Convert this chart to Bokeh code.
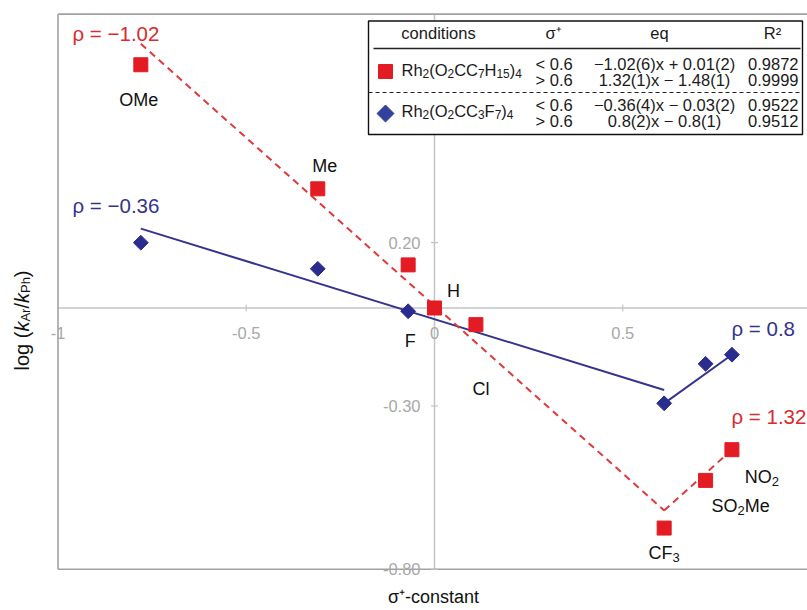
import numpy as np
from bokeh.plotting import figure
from bokeh.models import Range1d, Label
from bokeh.embed import file_html
from bokeh.resources import INLINE

# ---------------- data ----------------
substituents = ["OMe", "Me", "F", "H", "Cl", "CF₃", "SO₂Me", "NO₂"]
sigma_plus = [-0.78, -0.31, -0.07, 0.00, 0.11, 0.61, 0.72, 0.79]
log_krel_c7 = [0.745, 0.365, 0.132, 0.000, -0.051, -0.674, -0.528, -0.434]

sigma_plus_c3f7 = [-0.78, -0.31, -0.07, 0.61, 0.72, 0.79]
log_krel_c3f7 = [0.200, 0.120, -0.010, -0.292, -0.171, -0.143]

fit_c7_low_x = [-0.78, 0.61]
fit_c7_low_y = [0.809, -0.620]
fit_c7_high_x = [0.61, 0.79]
fit_c7_high_y = [-0.620, -0.434]
fit_c3f7_low_x = [-0.78, 0.61]
fit_c3f7_low_y = [0.243, -0.251]
fit_c3f7_high_x = [0.61, 0.79]
fit_c3f7_high_y = [-0.292, -0.143]

rho_c7 = ["−1.02", "1.32"]
rho_c3f7 = ["−0.36", "0.8"]

x_ticks = [-1.0, -0.5, 0.0, 0.5]
x_tick_labels = ["-1", "-0.5", "0", "0.5"]
y_ticks = [0.20, -0.30, -0.80]
y_tick_labels = ["0.20", "-0.30", "-0.80"]
x_lim = [-1.0, 1.0]
y_lim = [-0.8, 0.9]

table_header = ["conditions", "σ⁺", "eq", "R²"]
catalysts = ["Rh₂(O₂CC₇H₁₅)₄", "Rh₂(O₂CC₃F₇)₄"]
sigma_ranges = ["< 0.6", "> 0.6"]
equations = ["−1.02(6)x + 0.01(2)", "1.32(1)x − 1.48(1)",
             "−0.36(4)x − 0.03(2)", "0.8(2)x − 0.8(1)"]
r_squared = ["0.9872", "0.9999", "0.9522", "0.9512"]

# ---------------- layout / style ----------------
FONT = "Liberation Sans"
RED = "#e31b23"
RED_LINE = "#e0393d"
RED_TXT = "#d92a30"
BLUE = "#2b2d8e"
BLUE_LINE = "#34348f"
BLUE_TXT = "#33338f"
GRID_GRAY = "#c4c4c4"
FRAME_GRAY = "#a2a2a2"
TICK_GRAY = "#a8a8a8"

W, H = 807, 610
PXX, PXY = 376.5, 326.5      # pixels per data unit
ZX, ZY = 434.0, 307.5        # pixel position of the origin
BASE_FIX = 7                 # baseline correction for label placement (px)

# Arial / Liberation Sans advance widths (per 1000 em)
ARIAL = {"l": 222, "o": 556, "g": 556, " ": 278, "(": 333, ")": 333, "k": 500,
         "A": 667, "r": 333, "/": 278, "P": 667, "h": 556, "R": 722, "O": 778,
         "C": 722, "H": 722, "F": 611, "S": 667, "M": 833, "e": 556, "N": 722}
for d in "0123456789":
    ARIAL[d] = 556
SUBS = "₀₁₂₃₄₅₆₇₈₉"


def page_x(px):
    return (px - ZX) / PXX


def page_y(py):
    return (ZY - py) / PXY


p = figure(width=W, height=H, title=None,
           x_range=Range1d(page_x(0), page_x(W)),
           y_range=Range1d(page_y(H), page_y(0)),
           x_axis_location=None, y_axis_location=None,
           toolbar_location=None, output_backend="svg",
           min_border_left=0, min_border_right=0,
           min_border_top=0, min_border_bottom=0)
p.grid.visible = False
p.outline_line_color = None
p.background_fill_color = "white"
p.border_fill_color = "white"

xr_end = page_x(W)
# axes through the origin
p.segment(x0=0, x1=0, y0=y_lim[0], y1=y_lim[1], line_color=GRID_GRAY, line_width=1.5)
p.segment(x0=x_lim[0], x1=xr_end, y0=0, y1=0, line_color=GRID_GRAY, line_width=1.5)
# frame: left, top, bottom (right edge is cropped in the reference)
p.segment(x0=x_lim[0], x1=x_lim[0], y0=y_lim[0], y1=y_lim[1],
          line_color=FRAME_GRAY, line_width=1.6)
p.segment(x0=x_lim[0], x1=xr_end, y0=y_lim[1], y1=y_lim[1],
          line_color=FRAME_GRAY, line_width=1.6)
p.segment(x0=x_lim[0], x1=xr_end, y0=y_lim[0], y1=y_lim[0],
          line_color=FRAME_GRAY, line_width=1.6)

# tick marks
p.scatter(x=x_ticks[1:], y=[0] * (len(x_ticks) - 1), marker="dash", angle=np.pi / 2,
          size=7, line_color=GRID_GRAY, line_width=1.2)
p.scatter(x=[0] * len(y_ticks), y=y_ticks, marker="dash",
          size=7, line_color=GRID_GRAY, line_width=1.2)

# fit lines
p.line(fit_c3f7_low_x, fit_c3f7_low_y, line_color=BLUE_LINE, line_width=2)
p.line(fit_c3f7_high_x, fit_c3f7_high_y, line_color=BLUE_LINE, line_width=2)
p.line(fit_c7_low_x, fit_c7_low_y, line_color=RED_LINE, line_width=2, line_dash="7 5")
p.line(fit_c7_high_x, fit_c7_high_y, line_color=RED_LINE, line_width=2, line_dash="7 5")

# data points
p.scatter(sigma_plus_c3f7, log_krel_c3f7, marker="square", angle=np.pi / 4,
          size=10.5, fill_color=BLUE, line_color=BLUE)
p.scatter(sigma_plus, log_krel_c7, marker="square", size=14,
          fill_color=RED, line_color=RED)

# table (legend) box, drawn over the axis line
TL, TR, TT, TB = 368, 802, 20.5, 134
p.quad(left=page_x(TL), right=page_x(TR), top=page_y(TT), bottom=page_y(TB),
       fill_color="white", line_color="#111111", line_width=1.4)
p.segment(x0=page_x(373), x1=page_x(800), y0=page_y(48), y1=page_y(48),
          line_color="#222222", line_width=1.3)
p.segment(x0=page_x(TL), x1=page_x(TR), y0=page_y(92), y1=page_y(92),
          line_color="#222222", line_width=1.2, line_dash="4 3")
p.scatter(x=[page_x(385)], y=[page_y(71)], marker="square", size=14,
          fill_color=RED, line_color=RED)
p.scatter(x=[page_x(385)], y=[page_y(113)], marker="square", angle=np.pi / 4,
          size=12, fill_color="#34409e", line_color="#34409e")


def lab(x, y, text, size, color, align="left", baseline="alphabetic",
        angle=0.0, style="normal"):
    if baseline == "alphabetic":
        if angle == 0.0:
            y = y + BASE_FIX / PXY
        else:
            x = x - BASE_FIX / PXX
    p.add_layout(Label(x=x, y=y, text=text, text_font=FONT,
                       text_font_size=f"{size}px", text_color=color,
                       text_align=align, text_baseline=baseline,
                       angle=angle, text_font_style=style))


def runs_of(text):
    """split a formula with unicode subscript digits into (text, is_sub) runs"""
    runs = []
    for ch in text:
        sub = ch in SUBS
        c = str(SUBS.index(ch)) if sub else ch
        if runs and runs[-1][1] == sub:
            runs[-1] = (runs[-1][0] + c, sub)
        else:
            runs.append((c, sub))
    return runs


def formula(x_px, base_px, text, size, color, align="left"):
    sub_size = round(size * 0.72, 1)
    shift = size * 0.24
    runs = runs_of(text)
    widths = [sum(ARIAL[c] for c in t) / 1000.0 * (sub_size if s else size)
              for t, s in runs]
    total = sum(widths)
    x = x_px - (total / 2 if align == "center" else 0)
    for (t, s), w in zip(runs, widths):
        lab(page_x(x), page_y(base_px + (shift if s else 0)), t,
            sub_size if s else size, color)
        x += w


# tick labels
for t, s in zip(x_ticks, x_tick_labels):
    lab(t, -32 / PXY, s, 16.5, TICK_GRAY, align="center")
for t, s in zip(y_ticks, y_tick_labels):
    lab(-14 / PXX, t, s, 16.5, TICK_GRAY, align="right", baseline="middle")

# substituent labels: offsets (px right, px down) from the red point
label_offsets = [(-2, 42), (7, -16), (2, 83), (19, -10), (5, 71),
                 (0, 32), (35, 33), (30, 34)]
for name, xv, yv, (ox, oy) in zip(substituents, sigma_plus, log_krel_c7, label_offsets):
    px = ZX + xv * PXX + ox
    py = ZY - yv * PXY + oy
    formula(px, py, name, 18, "#111111", align="center")

# rho labels
lab(page_x(72), page_y(40), "ρ = " + rho_c7[0], 20.5, RED_TXT)
lab(page_x(731), page_y(423), "ρ = " + rho_c7[1], 20.5, RED_TXT)
lab(page_x(72), page_y(212), "ρ = " + rho_c3f7[0], 20.5, BLUE_TXT)
lab(page_x(731), page_y(335), "ρ = " + rho_c3f7[1], 20.5, BLUE_TXT)

# table texts
TXT = "#1a1a1a"
TFS = 16.5
header_x = [438, 553, 659, 772]
for h, hx in zip(table_header, header_x):
    lab(page_x(hx), page_y(39), h, TFS, TXT, align="center")
row_base = [70, 86, 111, 127]
name_base = [76, 117]
for i, c in enumerate(catalysts):
    formula(401, name_base[i], c, TFS, TXT)
for i in range(4):
    lab(page_x(535), page_y(row_base[i]), sigma_ranges[i % 2], TFS, TXT)
    lab(page_x(664), page_y(row_base[i]), equations[i], TFS, TXT, align="center")
    lab(page_x(798), page_y(row_base[i]), r_squared[i], TFS, TXT, align="right")

# axis titles
lab(page_x(433), page_y(603), "σ⁺-constant", 18, "#111111", align="center")

ylab_pieces = [("log (", 20, "normal", 0), ("k", 20, "italic", 0),
               ("Ar", 13, "normal", 4), ("/", 20, "normal", 0),
               ("k", 20, "italic", 0), ("Ph", 13, "normal", 4),
               (")", 20, "normal", 0)]
cur = 370.0
for txt, sz, st, sh in ylab_pieces:
    lab(page_x(28 + sh), page_y(cur), txt, sz, "#111111", angle=np.pi / 2, style=st)
    cur -= sum(ARIAL[ch] for ch in txt) / 1000.0 * sz

open("out.html", "w").write(file_html(p, INLINE))
